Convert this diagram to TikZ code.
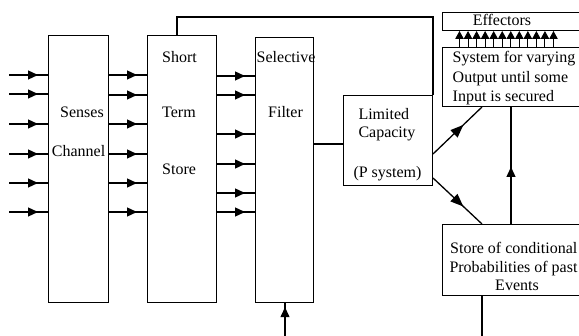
\documentclass[tikz,border=0pt]{standalone}
\usepackage{fontspec}
\setmainfont{Liberation Serif}
\usetikzlibrary{arrows.meta,decorations.markings,calc}
\tikzset{
  box/.style={draw, line width=1pt, inner sep=0pt, anchor=north west},
  conn/.style={line width=1.3pt},
  arr/.style={postaction={decorate}, decoration={markings, mark=at position #1 with {\arrow{Triangle[length=10pt,width=9pt]}}}},
  bigarr/.style={postaction={decorate}, decoration={markings, mark=at position #1 with {\arrow{Triangle[length=13pt,width=10pt]}}}},
  txt/.style={inner sep=0pt, anchor=base west, font=\fontsize{16}{19}\selectfont},
  ctxt/.style={inner sep=0pt, anchor=base, font=\fontsize{16}{19}\selectfont},
  efftip/.style={line width=1pt, -{Triangle[length=8pt,width=8.5pt]}}
}
\begin{document}
\begin{tikzpicture}[x=1pt,y=-1pt]
\clip (0,0) rectangle (579,336);
\fill[white] (0,0) rectangle (579,336);

% boxes
\node[box, minimum width=60pt, minimum height=267pt] (senses) at (48,35) {};
\node[box, minimum width=69pt, minimum height=267pt] (sts) at (147,35) {};
\node[box, minimum width=58pt, minimum height=265.5pt] (filter) at (255,36.7) {};
\node[box, minimum width=89pt, minimum height=90pt] (lc) at (343,95) {};
\node[box, minimum width=160pt, minimum height=18pt] (eff) at (442,12) {};
\node[box, minimum width=160pt, minimum height=59pt] (sys) at (442,47) {};
\node[box, minimum width=160pt, minimum height=71pt] (store) at (442,224) {};

% texts
\node[txt] (t1) at (60,118) {Senses};
\node[txt] (t2) at (51.7,157) {Channel};
\node[txt] (t3) at (162,63) {Short};
\node[txt] (t4) at (162,118) {Term};
\node[txt] (t5) at (162,175) {Store};
\node[txt] (t6) at (256.5,63) {Selective};
\node[txt] (t7) at (268,118) {Filter};
\node[txt] (t8) at (358.3,120) {Limited};
\node[txt] (t9) at (358.3,138) {Capacity};
\node[txt] (t10) at (353.3,178) {(P system)};
\node[ctxt] (t11) at (502,25.5) {Effectors};
\node[txt] (t12) at (452.5,63) {System for varying};
\node[txt] (t13) at (452.5,82.5) {Output until some};
\node[txt] (t14) at (452.5,102) {Input is secured};
\node[txt] (t15) at (450,253.7) {Store of conditional};
\node[txt] (t16) at (449.3,272.7) {Probabilities of past};
\node[ctxt] (t17) at (517,291) {Events};

% input arrows to senses
\foreach \y [count=\i] in {75,94,124,154,183,212} {
  \coordinate (in\i) at (9,\y);
  \draw[conn, arr=-10pt] (in\i) -- (in\i -| senses.west);
}
% senses -> short term store
\foreach \y [count=\i] in {75,95,124,154,183,212} {
  \coordinate (sa\i) at (0,\y);
  \draw[conn, arr=-10pt] (senses.east |- sa\i) -- (sts.west |- sa\i);
}
% short term store -> filter
\foreach \y [count=\i] in {76,95,134,164,193,212} {
  \coordinate (sf\i) at (0,\y);
  \draw[conn, arr=-10pt] (sts.east |- sf\i) -- (filter.west |- sf\i);
}

% feedback from short term store top to limited capacity
\draw[conn] ([xshift=30pt]sts.north west) -- ++(0,-18) -| (lc.north east);

% filter -> limited capacity
\coordinate (fl) at (0,144);
\draw[conn] (filter.east |- fl) -- (lc.west |- fl);

% limited capacity -> system / store
\draw[conn, bigarr=0.62] ([yshift=-59pt]lc.north east) -- ([xshift=40pt]sys.south west);
\draw[conn, bigarr=0.62] ([yshift=8pt]lc.south east) -- ([xshift=40pt]store.north west);

% store -> system
\draw[conn, arr=57pt] ([xshift=69pt]store.north west) -- ([xshift=69pt]sys.south west);

% store bottom line
\coordinate (sb) at (482,340);
\draw[conn] ([xshift=40pt]store.south west) -- (sb);

% arrow into filter bottom
\coordinate (fi) at (285,340);
\draw[conn, arr=-4pt] (fi) -- (fi |- filter.south);

% effector arrows
\foreach \i in {0,...,11} {
  \path (sys.north west) ++(17.5+\i*8.545,0) coordinate (ea\i);
  \draw[efftip] (ea\i) -- (ea\i |- eff.south);
}
\end{tikzpicture}
\end{document}
